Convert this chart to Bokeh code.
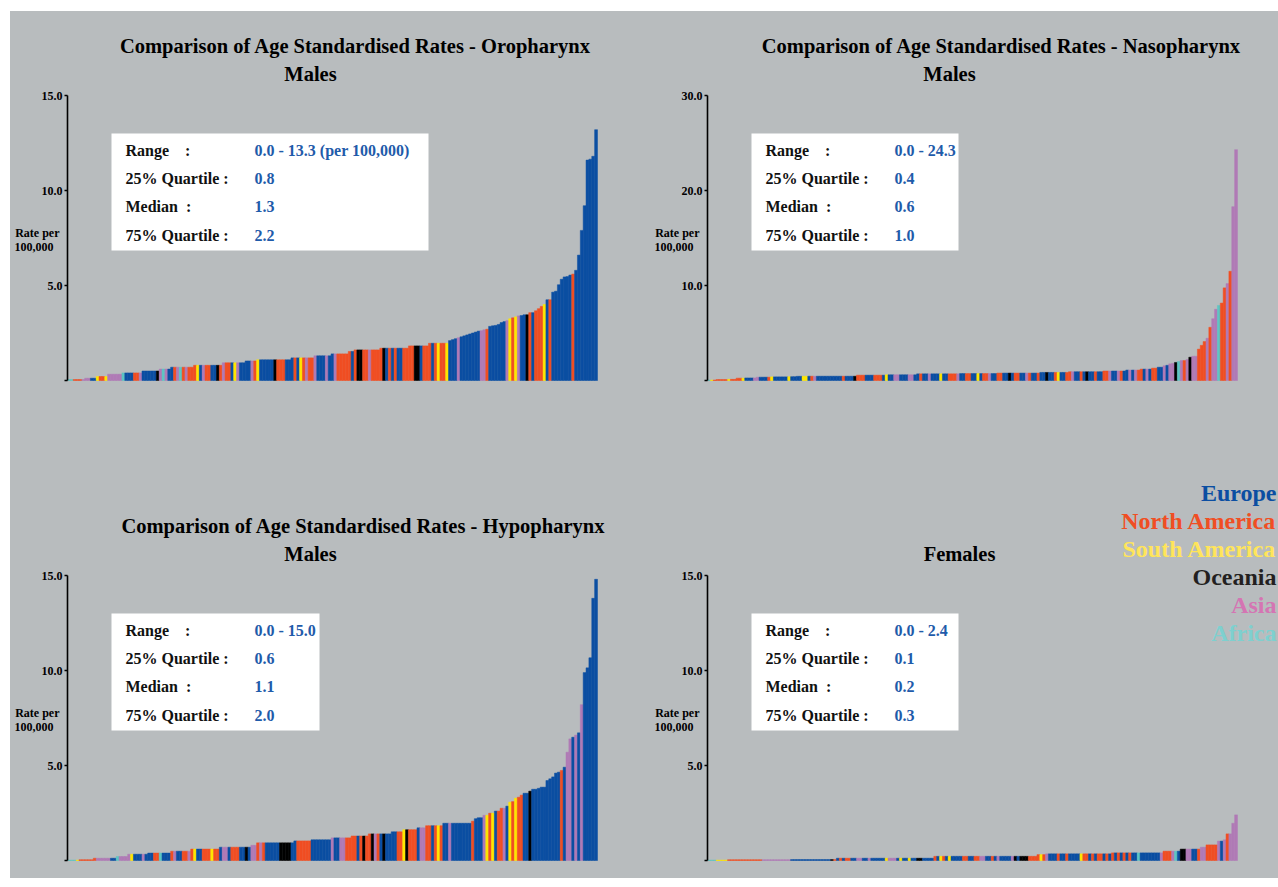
from bokeh.plotting import figure
from bokeh.models import ColumnDataSource, Label, BoxAnnotation, FixedTicker, Range1d, Spacer
from bokeh.layouts import column, row
from bokeh.embed import file_html
from bokeh.resources import INLINE

# ---------------- data ----------------
REGION_CODES = ["E", "N", "S", "O", "A", "F"]
REGION_NAMES = ["Europe", "North America", "South America", "Oceania", "Asia", "Africa"]
REGION_BAR_COLORS = ["#0B4EA2", "#F04E23", "#FFE600", "#000000", "#B07AB6", "#5CC5C3"]
REGION_TEXT_COLORS = ["#0B4EA2", "#F04E23", "#FFE55A", "#231F20", "#D475B3", "#7ED0CF"]

STAT_LABELS = ["Range\u00a0\u00a0\u00a0\u00a0:", "25% Quartile :", "Median\u00a0\u00a0:", "75% Quartile :"]
AXIS_CAPTION = ["Rate per\u00a0", "100,000\u00a0\u00a0\u00a0"]

# Oropharynx, males
P1_TITLE = "Comparison of Age Standardised Rates - Oropharynx"
P1_SUB = "Males"
P1_STATS = ["0.0 - 13.3 (per 100,000)", "0.8", "1.3", "2.2"]
P1_TICKS = [5.0, 10.0, 15.0]
P1_TICK_LABELS = ["5.0", "10.0", "15.0"]
P1_VALUES = [
    0.05, 0.05, 0.05, 0.05, 0.05, 0.05,
    0.12, 0.12, 0.12, 0.12,
    0.21, 0.21, 0.21, 0.21,
    0.33, 0.33, 0.33, 0.33, 0.33,
    0.40, 0.40, 0.40, 0.40, 0.40, 0.40, 0.40,
    0.50, 0.50, 0.50, 0.50, 0.50, 0.50,
    0.60, 0.60, 0.60, 0.60,
    0.70, 0.70, 0.70, 0.70, 0.70, 0.70, 0.70, 0.70,
    0.80, 0.80, 0.80, 0.80, 0.80, 0.80, 0.80, 0.80, 0.80, 0.80,
    0.93, 0.93, 0.93, 0.93, 0.93, 0.93, 0.93, 0.93,
    1.03, 1.03, 1.03, 1.03,
    1.09, 1.09, 1.09, 1.09, 1.09, 1.09, 1.09, 1.09, 1.09, 1.09, 1.09, 1.09,
    1.19, 1.19, 1.19, 1.19, 1.19, 1.19, 1.19, 1.19,
    1.30, 1.30, 1.30, 1.30, 1.30, 1.30,
    1.40, 1.40, 1.40, 1.40, 1.40, 1.40,
    1.53, 1.53,
    1.61, 1.61, 1.61, 1.61, 1.61, 1.61, 1.61, 1.61, 1.61,
    1.70, 1.70, 1.70, 1.70, 1.70, 1.70, 1.70, 1.70, 1.70, 1.70,
    1.82, 1.82, 1.82, 1.82, 1.82, 1.82, 1.82,
    1.96, 1.96, 1.96, 1.96, 1.96, 1.96, 1.96,
    2.10, 2.15, 2.20, 2.25, 2.30,
    2.35, 2.40, 2.45, 2.50, 2.55, 2.60, 2.62,
    2.67, 2.70,
    2.85, 2.88, 2.90, 2.95,
    3.05, 3.10, 3.15,
    3.25, 3.30, 3.35, 3.40, 3.42,
    3.46, 3.46, 3.57, 3.57, 3.67, 3.78, 3.90, 4.00, 4.25, 4.25,
    4.65, 4.70, 5.04, 5.33, 5.45, 5.47, 5.55, 5.60, 5.80, 6.60,
    7.90, 9.20, 11.60, 11.65, 11.80, 13.20,
]
P1_REGIONS = (
    "FFNNNA" "AAEE" "SNNS" "AAAAA" "FEEENNA" "EEEEEO" "AFAE" "ENAFNANN"
    "NSEANNEEON" "ANNESAEE" "EEAN" "SEEEEEONNNEE" "ENESNANN" "AEEEAE" "EANNNN"
    "NE" "NOONNANNN" "NOENENEENN" "NNOOENN" "NENSNNS" "EEEAE" "EEEEEEA" "AN"
    "EEEE" "EEA" "SNSAE" "EONENNNSEN" "EEEEEEE" "N" "EEEEEEEE"
)

# Nasopharynx, males
P2_TITLE = "Comparison of Age Standardised Rates - Nasopharynx"
P2_SUB = "Males"
P2_STATS = ["0.0 - 24.3", "0.4", "0.6", "1.0"]
P2_TICKS = [10.0, 20.0, 30.0]
P2_TICK_LABELS = ["10.0", "20.0", "30.0"]
P2_VALUES = [
    0.05, 0.05, 0.05,
    0.10, 0.10, 0.10, 0.10,
    0.12, 0.12, 0.12,
    0.25, 0.25, 0.25,
    0.27, 0.27, 0.27, 0.27,
    0.35, 0.35, 0.35, 0.35, 0.35,
    0.38, 0.38, 0.38, 0.38, 0.38, 0.38,
    0.40, 0.40, 0.40,
    0.44, 0.44, 0.44, 0.44,
    0.45, 0.45, 0.45, 0.45, 0.45, 0.45, 0.45, 0.45, 0.45, 0.45,
    0.45, 0.45, 0.45, 0.45, 0.45, 0.45, 0.45,
    0.56, 0.56, 0.56, 0.56, 0.56, 0.56, 0.56, 0.56, 0.56, 0.56,
    0.60, 0.60, 0.60, 0.60, 0.60, 0.60, 0.60, 0.60, 0.60, 0.60, 0.60,
    0.70, 0.70, 0.70, 0.70, 0.70, 0.70, 0.70, 0.70, 0.70, 0.70,
    0.70, 0.70, 0.70, 0.70, 0.70,
    0.73, 0.73, 0.73, 0.73, 0.73, 0.73, 0.73, 0.73, 0.73, 0.73,
    0.73, 0.73, 0.73,
    0.78, 0.78, 0.78, 0.78, 0.78, 0.78, 0.78, 0.78, 0.78, 0.78,
    0.78, 0.78, 0.78, 0.78, 0.78,
    0.85, 0.85, 0.85, 0.85, 0.85, 0.85, 0.85, 0.85, 0.85, 0.85,
    0.92, 0.92, 0.92, 0.92, 0.92, 0.92, 0.92, 0.92, 0.92, 0.92,
    0.92, 0.92,
    1.00, 1.00, 1.00, 1.00, 1.00, 1.00, 1.00, 1.00,
    1.10, 1.10, 1.10, 1.10, 1.10,
    1.20, 1.20, 1.20, 1.20,
    1.30, 1.30, 1.40, 1.40, 1.55, 1.60, 1.75, 1.80, 1.90, 2.00,
    2.10, 2.10, 2.20, 2.45, 2.55, 2.55, 3.30, 3.70, 4.10, 4.45,
    5.60, 6.50, 7.50, 7.90, 8.15, 9.75, 10.20, 11.50, 18.30, 24.30,
]
P2_REGIONS = (
    "FSN" "NNNN" "SNN" "NNS" "EEEA" "AEEEN" "SEEEEE" "SEE" "EE" "SS"
    "ENAEEEEEEEEENEEEO" "NNNEEENNNE" "SEEAAEEEAAE" "ENEEAEEESEENNNA"
    "EENNEESENNAEE" "NNEEOENNEEANEEN" "EEOEENSEEN" "NAEENEOEENEE" "NNAEEANE"
    "EAEAN" "NEAE" "NNEEAEAAOF" "ANAOAANNNA" "NAAFNNANAA"
)

# Hypopharynx, males
P3_TITLE = "Comparison of Age Standardised Rates - Hypopharynx"
P3_SUB = "Males"
P3_STATS = ["0.0 - 15.0", "0.6", "1.1", "2.0"]
P3_TICKS = [5.0, 10.0, 15.0]
P3_TICK_LABELS = ["5.0", "10.0", "15.0"]
P3_VALUES = [
    0.02, 0.02, 0.02, 0.02,
    0.04, 0.04, 0.04, 0.04, 0.04,
    0.12, 0.12, 0.12, 0.12, 0.12, 0.12,
    0.12, 0.12,
    0.21, 0.21, 0.21, 0.21,
    0.33, 0.33, 0.33, 0.33, 0.33, 0.33, 0.33,
    0.39, 0.39, 0.39, 0.39, 0.39, 0.39, 0.39, 0.39,
    0.49, 0.49, 0.49, 0.49, 0.49, 0.49, 0.49,
    0.60, 0.60, 0.60, 0.60, 0.60, 0.60, 0.60, 0.60, 0.60, 0.60,
    0.70, 0.70, 0.70, 0.70, 0.70, 0.70, 0.70, 0.70, 0.70, 0.70, 0.70,
    0.80, 0.80,
    0.93, 0.93, 0.93, 0.93, 0.93, 0.93, 0.93, 0.93, 0.93, 0.93, 0.93, 0.93, 0.93,
    1.03, 1.03, 1.03, 1.03, 1.03, 1.03,
    1.09, 1.09, 1.09, 1.09, 1.09, 1.09, 1.09,
    1.19, 1.19, 1.19, 1.19, 1.19, 1.19, 1.19,
    1.29, 1.29, 1.29, 1.29, 1.29, 1.29,
    1.40, 1.40, 1.40, 1.40, 1.40, 1.40, 1.40, 1.40,
    1.51, 1.51, 1.51, 1.51,
    1.62, 1.62, 1.62, 1.62, 1.62,
    1.72, 1.72, 1.72,
    1.83, 1.83, 1.83, 1.83, 1.83, 1.83,
    1.96, 1.96, 1.96, 1.96, 1.96, 1.96, 1.96, 1.96, 1.96, 1.96,
    2.07, 2.20, 2.25, 2.25, 2.38, 2.38, 2.49, 2.49, 2.60, 2.60,
    2.75, 2.75, 2.86, 3.07, 3.10, 3.28, 3.33, 3.44, 3.54, 3.54,
    3.65, 3.75, 3.75, 3.80, 3.86, 3.86,
    4.21, 4.30, 4.40, 4.60, 4.65, 4.74, 4.91, 5.70, 6.40, 6.49,
    6.60, 6.72, 8.20, 9.89, 10.14, 10.67, 13.80, 14.80,
]
P3_REGIONS = (
    "FFFS" "NNNNN" "NAAAAA" "EE" "FAAA" "ASEEEAE" "EENNFEEE" "NAEENNA"
    "NSEENNNSNN" "EAAENNNEEOE" "AA" "NANEEEEEOOOOE" "ENNNNN" "EEEEEEE"
    "AEEAANN" "NNENON" "NOANEOEE" "EENN" "SONNN" "EAA" "NNENSN" "EEAEEEEEEE"
    "NEEEASNSENNAESNSNNEEOEEEEE" "EEEEENEAAEAEAEEEEE"
)

# Hypopharynx, females
P4_TITLE = ""
P4_SUB = "Females"
P4_STATS = ["0.0 - 2.4", "0.1", "0.2", "0.3"]
P4_TICKS = [5.0, 10.0, 15.0]
P4_TICK_LABELS = ["5.0", "10.0", "15.0"]
P4_VALUES = [
    0.02, 0.02, 0.02, 0.02, 0.02, 0.02, 0.02,
    0.04, 0.04, 0.04, 0.04, 0.04, 0.04, 0.04, 0.04, 0.04, 0.04,
    0.04, 0.04, 0.04, 0.04, 0.04, 0.04, 0.04, 0.04, 0.04, 0.04,
    0.04, 0.04,
    0.05, 0.05, 0.05, 0.05, 0.05, 0.05, 0.05, 0.05, 0.05, 0.05,
    0.05, 0.05, 0.05, 0.05, 0.05, 0.05,
    0.12, 0.12, 0.12, 0.12, 0.12, 0.12, 0.12, 0.12, 0.12, 0.12,
    0.12, 0.12, 0.12, 0.12, 0.12, 0.12, 0.12, 0.12, 0.12, 0.12,
    0.12, 0.12, 0.12, 0.12, 0.12, 0.12, 0.12, 0.12, 0.12, 0.12,
    0.12, 0.12, 0.12, 0.12,
    0.22, 0.22, 0.22, 0.22, 0.22, 0.22, 0.22, 0.22, 0.22, 0.22,
    0.22, 0.22, 0.22, 0.22, 0.22, 0.22, 0.22, 0.22, 0.22, 0.22,
    0.22, 0.22, 0.22, 0.22, 0.22, 0.22, 0.22, 0.22, 0.22, 0.22,
    0.22, 0.22, 0.22, 0.22, 0.22, 0.22,
    0.31, 0.31, 0.31,
    0.35, 0.35, 0.35, 0.35, 0.35, 0.35, 0.35, 0.35, 0.35, 0.35,
    0.35, 0.35, 0.35, 0.35, 0.35, 0.35, 0.35, 0.35, 0.35, 0.35,
    0.35, 0.35, 0.35,
    0.40, 0.40, 0.40, 0.40, 0.40, 0.40, 0.40, 0.40, 0.40, 0.40,
    0.40, 0.40, 0.40, 0.40, 0.40, 0.40, 0.40, 0.40,
    0.49, 0.49, 0.49, 0.49, 0.49, 0.49,
    0.60, 0.60, 0.60, 0.60, 0.60, 0.60, 0.60,
    0.70, 0.70,
    0.82, 0.82, 0.82, 0.82,
    1.02, 1.02, 1.09, 1.40, 1.40, 1.96, 2.40,
]
P4_REGIONS = (
    "FFF" "SSSS" "NNNNNNNNNNNN" "AAAAAAAAAA" "EEEEEEEEEEEEEE" "ON"
    "ENENNEEAAEEAEEEEESAAAESEESEEOOEEEE"
    "NESNESEEEENNEENNAAEENEAEEEEAOEOOONNN"
    "NSN" "AEEENEENEEEESNNENENNENE" "NENENENEEFEEEEEEEA"
    "NNNAFE" "OOAAEEN" "AA" "NNNN" "AE" "A" "NA" "A" "A"
)

# ---------------- style / layout ----------------
BG = "#B8BCBE"
SERIF = "Liberation Serif"
VALUE_BLUE = "#1F5BAA"
CODE_TO_COLOR = dict(zip(REGION_CODES, REGION_BAR_COLORS))
BARS_SPAN_PX = 530


def build_panel(values, regions, ymax, ticks, tick_labels, origin, size, axis_x, y_top, y_base,
                title, title_pos, sub, sub_pos, stats, box, legend=False):
    n = len(values)
    regs = (regions + "E" * n)[:n]
    ox, oy = origin
    w, h = size
    L, R, T, B = axis_x, ox + w, oy, oy + h
    bar_px = BARS_SPAN_PX / n
    unit_px = (y_base - y_top) / ymax

    def dx(px):
        return (px - L) / bar_px - 0.5

    def dy(py):
        return (y_base - py) / unit_px

    p = figure(width=w, height=h, output_backend="svg", toolbar_location=None, tools="",
               x_range=Range1d(dx(L), dx(R)), y_range=Range1d(dy(B), dy(T)),
               min_border_left=L - ox, min_border_right=0,
               min_border_top=0, min_border_bottom=0,
               background_fill_color=None, border_fill_color=None, outline_line_color=None)
    p.xaxis.visible = False
    p.xgrid.visible = False
    p.ygrid.visible = False

    # y axis: tick marks as minor ticks, labels (incl. the "Rate per 100,000" caption) as major ticks
    cap_vals = [dy(y_top + 137), dy(y_top + 151)]
    ax = p.yaxis[0]
    ax.bounds = (0, ymax)
    ax.ticker = FixedTicker(ticks=list(ticks) + cap_vals, minor_ticks=[0.0] + list(ticks))
    overrides = {t: lab for t, lab in zip(ticks, tick_labels)}
    overrides.update({c: lab for c, lab in zip(cap_vals, AXIS_CAPTION)})
    ax.major_label_overrides = overrides
    ax.axis_line_color = "black"
    ax.axis_line_width = 1.6
    ax.major_tick_line_color = None
    ax.major_tick_out = 3
    ax.major_tick_in = 0
    ax.minor_tick_line_color = "black"
    ax.minor_tick_line_width = 1.5
    ax.minor_tick_out = 3
    ax.minor_tick_in = 0
    ax.major_label_standoff = 2
    ax.major_label_text_font = SERIF
    ax.major_label_text_font_style = "bold"
    ax.major_label_text_font_size = "12px"
    ax.major_label_text_color = "black"

    src = ColumnDataSource(dict(x=list(range(n)), top=values,
                                color=[CODE_TO_COLOR[c] for c in regs]))
    p.vbar(x="x", top="top", bottom=0, width=1.0, source=src,
           fill_color="color", line_color="color", line_width=0.5)

    def add_text(px, py, text, size_px, color, align="left", bold=False):
        p.add_layout(Label(x=dx(px), y=dy(py), text=text, text_font=SERIF,
                           text_font_size=f"{size_px}px", text_color=color,
                           text_font_style="bold" if bold else "normal",
                           text_align=align, text_baseline="middle"))

    # stats box
    bl, bt, br, bb = box
    p.add_layout(BoxAnnotation(left=dx(bl), right=dx(br), top=dy(bt), bottom=dy(bb),
                               fill_color="white", fill_alpha=1.0, line_color=None))
    row_offsets = [17, 45, 73, 102]
    for lab, val, off in zip(STAT_LABELS, stats, row_offsets):
        add_text(bl + 14, bt + off, lab, 16, "#111111", bold=True)
        add_text(bl + 143, bt + off, val, 16, VALUE_BLUE, bold=True)

    if title:
        add_text(title_pos[0], title_pos[1], title, 20.5, "black", "center", True)
    add_text(sub_pos[0], sub_pos[1], sub, 20.5, "black", "center", True)

    if legend:
        for k, (name, col) in enumerate(zip(REGION_NAMES, REGION_TEXT_COLORS)):
            add_text(1276, 492 + 28 * k, name, 24, col, "right", True)
    return p


p1 = build_panel(P1_VALUES, P1_REGIONS, 15, P1_TICKS, P1_TICK_LABELS, (10, 11), (634, 433), 67, 95, 380,
                 P1_TITLE, (355, 45), P1_SUB, (310, 73), P1_STATS, (111, 133, 428, 250))
p2 = build_panel(P2_VALUES, P2_REGIONS, 30, P2_TICKS, P2_TICK_LABELS, (644, 11), (634, 433), 707, 95, 380,
                 P2_TITLE, (1001, 45), P2_SUB, (949, 73), P2_STATS, (751, 133, 958, 250))
p3 = build_panel(P3_VALUES, P3_REGIONS, 15, P3_TICKS, P3_TICK_LABELS, (10, 444), (634, 434), 67, 575, 860,
                 P3_TITLE, (363, 525), P3_SUB, (310, 553), P3_STATS, (111, 613, 319, 730))
p4 = build_panel(P4_VALUES, P4_REGIONS, 15, P4_TICKS, P4_TICK_LABELS, (644, 444), (634, 434), 707, 575, 860,
                 P4_TITLE, (959, 525), P4_SUB, (959, 553), P4_STATS, (751, 613, 958, 730), legend=True)

grid = column(row(p1, p2), row(p3, p4), styles={"background-color": BG})
layout = column(Spacer(height=11, width=1278),
                row(Spacer(width=10, height=867), grid))

open("out.html", "w").write(file_html(layout, INLINE))
